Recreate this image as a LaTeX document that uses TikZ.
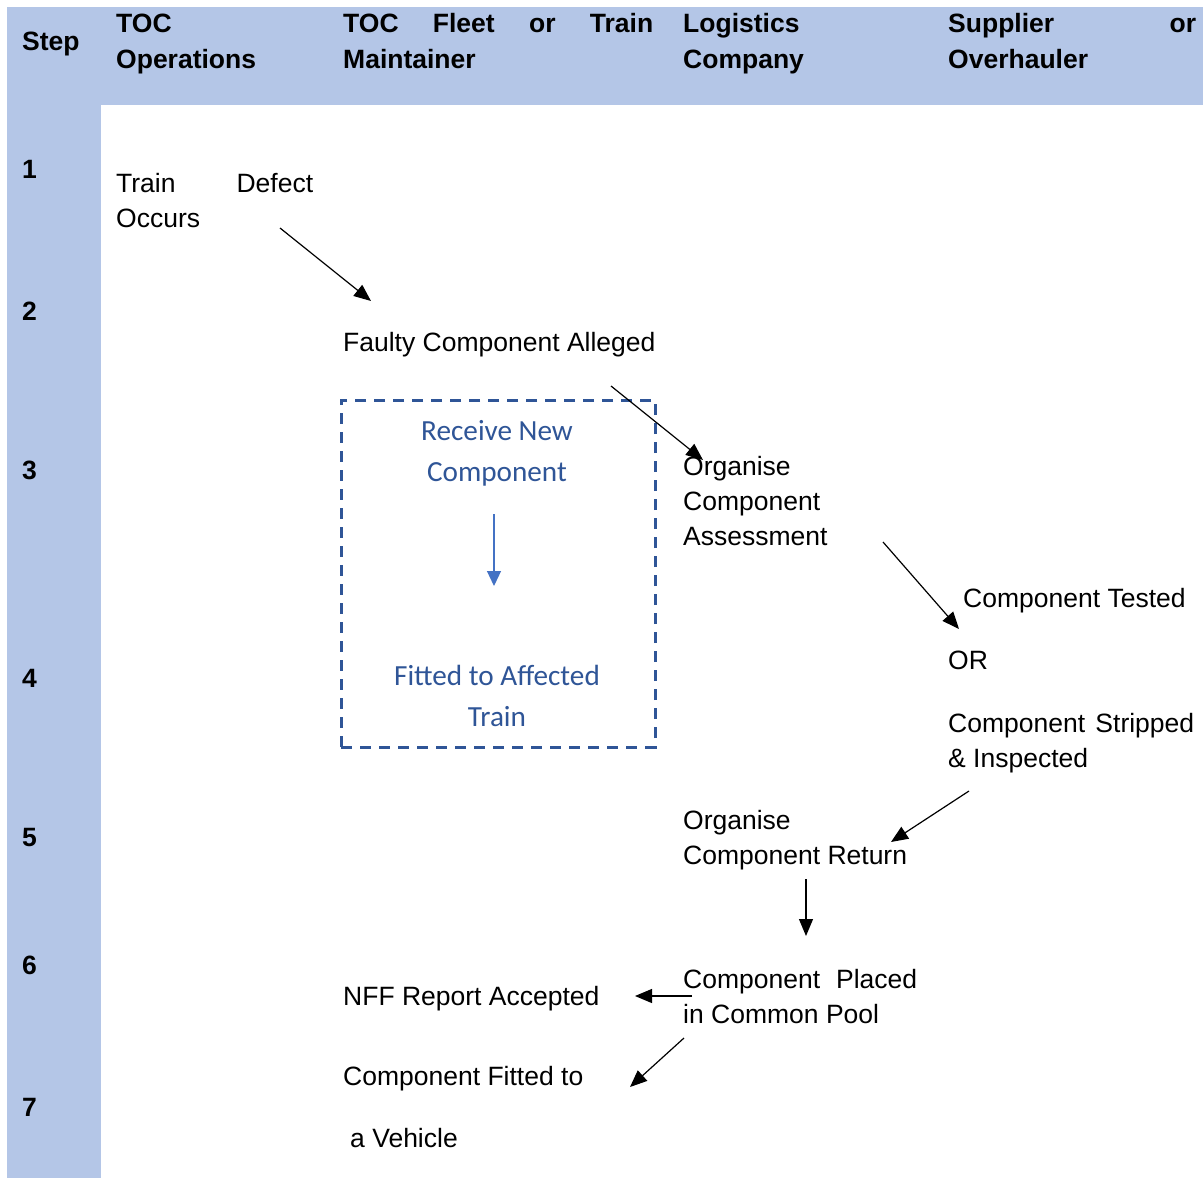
\documentclass[tikz,border=0pt]{standalone}
\usepackage{fontspec}
\setmainfont{Liberation Sans}
\newfontfamily\calibri{Carlito}
\usetikzlibrary{arrows.meta}
\definecolor{bandblue}{HTML}{B4C6E7}
\definecolor{boxblue}{HTML}{2F5597}
\definecolor{arrowblue}{HTML}{4472C4}

\begin{document}
\begin{tikzpicture}[
        x=1pt, y=-1pt,
        every node/.style={inner sep=0pt, anchor=base west},
        head/.style={font=\fontsize{26.5}{36}\selectfont\bfseries, align=left},
        stepno/.style={font=\fontsize{26.5}{36}\selectfont\bfseries},
        body/.style={font=\fontsize{26.5}{35}\selectfont, align=left},
        newpart/.style={font=\calibri\fontsize{29.2}{41}\selectfont, text=boxblue,
            align=center, anchor=base},
        swapbox/.style={draw=boxblue, line width=3pt, dash pattern=on 11pt off 8pt,
            minimum width=314pt, minimum height=347pt, anchor=center},
        flow/.style={-{Triangle[length=17pt,width=14pt]}, line width=1.2pt},
        inflow/.style={-{Triangle[length=15pt,width=14pt]}, line width=1.2pt, draw=arrowblue}
    ]

    % page and the two bands
    \useasboundingbox[fill=white] (0,0) rectangle (1203,1178);
    \fill[bandblue] (7,7) rectangle (1203,105);
    \fill[bandblue] (7,7) rectangle (101,1178);

    % column heads (multi-line nodes sit on their last line)
    \node[head] (hstep) at (22,50) {Step};
    \node[head] (hops) at (116,68) {TOC\\Operations};
    \node[head] (hfleet) at (343,68) {\makebox[310pt][s]{TOC Fleet or Train}\\Maintainer};
    \node[head] (hlog) at (683,68) {Logistics\\Company};
    \node[head] (hsup) at (948,68) {\makebox[248pt][s]{Supplier or}\\Overhauler};

    % step numbers
    \node[stepno] (s1) at (22,178) {1};
    \node[stepno] (s2) at (22,320) {2};
    \node[stepno] (s3) at (22,479) {3};
    \node[stepno] (s4) at (22,687) {4};
    \node[stepno] (s5) at (22,846) {5};
    \node[stepno] (s6) at (22,974) {6};
    \node[stepno] (s7) at (22,1116) {7};

    % process texts
    \node[body] (defect) at (116,227) {\makebox[197pt][s]{Train Defect}\\Occurs};
    \node[body] (alleged) at (343,351) {Faulty Component Alleged};
    \node[body] (assess) at (683,545) {Organise\\Component\\Assessment};
    \node[body] (tested) at (963,607) {Component Tested};
    \node[body] (or) at (948,669) {OR};
    \node[body] (stripped) at (948,767) {\makebox[246pt][s]{Component Stripped}\\\& Inspected};
    \node[body] (return) at (683,864) {Organise\\Component Return};
    \node[body] (pool) at (683,1023) {\makebox[234pt][s]{Component Placed}\\in Common Pool};
    \node[body] (nff) at (343,1005) {NFF Report Accepted};
    \node[body] (fitted) at (343,1085) {Component Fitted to};
    \node[body] (vehicle) at (350,1147) {a Vehicle};

    % new component swap
    \node[swapbox] (swap) at (498,573.5) {};
    \node[newpart] (receive) at (497,481) {Receive New\\Component};
    \node[newpart] (train) at (497,726) {Fitted to Affected\\Train};
    \coordinate (r1) at (494,514);
    \coordinate (r2) at (494,586);
    \draw[inflow] (r1) -- (r2);

    % arrows
    \coordinate (a1) at (280,228);
    \coordinate (b1) at (371,301);
    \coordinate (a2) at (611,386);
    \coordinate (b2) at (703,460);
    \coordinate (a3) at (883,542);
    \coordinate (b3) at (959,629);
    \coordinate (a4) at (969,791);
    \coordinate (b4) at (891,842);
    \coordinate (a5) at (806,879);
    \coordinate (b5) at (806,936);
    \coordinate (a6) at (692,996);
    \coordinate (b6) at (635,996);
    \coordinate (a7) at (684,1038);
    \coordinate (b7) at (630,1087);
    \draw[flow] (a1) -- (b1);
    \draw[flow] (a2) -- (b2);
    \draw[flow] (a3) -- (b3);
    \draw[flow] (a4) -- (b4);
    \draw[flow] (a5) -- (b5);
    \draw[flow] (a6) -- (b6);
    \draw[flow] (a7) -- (b7);

\end{tikzpicture}
\end{document}
